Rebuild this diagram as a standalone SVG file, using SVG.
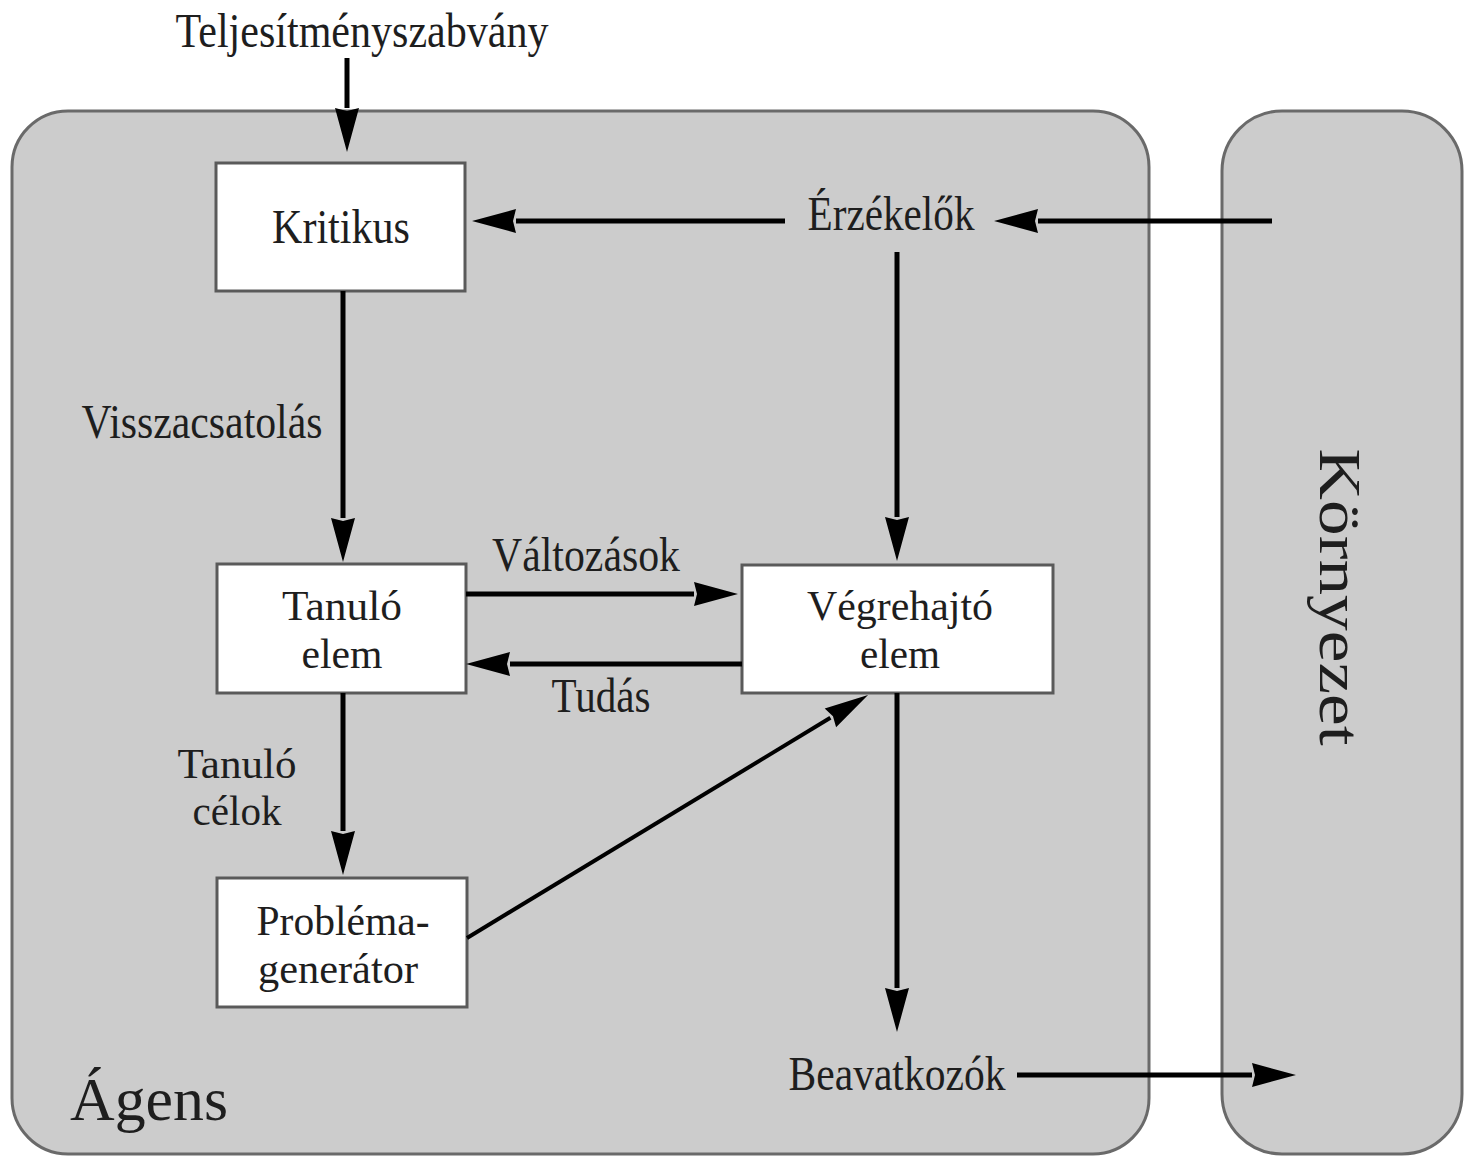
<svg xmlns="http://www.w3.org/2000/svg" width="1464" height="1156" viewBox="0 0 1464 1156">
  <style>
    .frame { fill: #cccccc; stroke: #6a6a6a; stroke-width: 3; }
    .box { fill: #ffffff; stroke: #5a5a5a; stroke-width: 3; }
    .lbl { font-family: "Liberation Serif", "Times New Roman", serif; font-size: 48px; fill: #1e1e1e; text-anchor: middle; }
    .two { font-size: 43px; }
    .big { font-size: 62px; }
    .edge { fill: none; stroke: #000000; stroke-width: 5; marker-end: url(#head); }
    .thin { stroke-width: 4; marker-end: url(#headSmall); }
  </style>
  <defs>
    <marker id="head" markerUnits="userSpaceOnUse" markerWidth="46" markerHeight="26" refX="0" refY="12" orient="auto" overflow="visible">
      <path d="M0,0 L44,12 L0,24 L3,12 z" fill="#000"/>
    </marker>
    <marker id="headSmall" markerUnits="userSpaceOnUse" markerWidth="46" markerHeight="26" refX="0" refY="11" orient="auto" overflow="visible">
      <path d="M0,0 L44,11 L0,22 L3,11 z" fill="#000"/>
    </marker>
  </defs>

  <rect width="1464" height="1156" fill="#ffffff"/>

  <!-- agent frame -->
  <g id="agens">
    <rect class="frame" x="12" y="111" width="1137" height="1043" rx="56" ry="56"/>
    <text class="lbl big" x="149" y="1120" textLength="158" lengthAdjust="spacingAndGlyphs">Ágens</text>
  </g>

  <!-- environment frame -->
  <g id="kornyezet">
    <rect class="frame" x="1222" y="111" width="240" height="1043" rx="60" ry="60"/>
    <text class="lbl" style="font-size:60px" x="1320" y="597" transform="rotate(90 1320 597)" textLength="297" lengthAdjust="spacingAndGlyphs">Környezet</text>
  </g>

  <g id="teljesitmenyszabvany">
    <text class="lbl" x="362" y="47" textLength="373" lengthAdjust="spacingAndGlyphs">Teljesítményszabvány</text>
  </g>

  <g id="kritikus">
    <rect class="box" x="216" y="163" width="249" height="128"/>
    <text class="lbl" x="341" y="243" textLength="138" lengthAdjust="spacingAndGlyphs">Kritikus</text>
  </g>

  <g id="erzekelok">
    <text class="lbl" x="891" y="230" textLength="167" lengthAdjust="spacingAndGlyphs">Érzékelők</text>
  </g>

  <g id="tanulo-elem">
    <rect class="box" x="217" y="564" width="249" height="129"/>
    <text class="lbl two" x="342" y="620" textLength="120" lengthAdjust="spacingAndGlyphs">Tanuló</text>
    <text class="lbl two" x="342" y="668" textLength="81" lengthAdjust="spacingAndGlyphs">elem</text>
  </g>

  <g id="vegrehajto-elem">
    <rect class="box" x="742" y="565" width="311" height="128"/>
    <text class="lbl two" x="900" y="620" textLength="186" lengthAdjust="spacingAndGlyphs">Végrehajtó</text>
    <text class="lbl two" x="900" y="668" textLength="80" lengthAdjust="spacingAndGlyphs">elem</text>
  </g>

  <g id="problemagenerator">
    <rect class="box" x="217" y="878" width="250" height="129"/>
    <text class="lbl two" x="343" y="935" textLength="173" lengthAdjust="spacingAndGlyphs">Probléma-</text>
    <text class="lbl two" x="338" y="983" textLength="160" lengthAdjust="spacingAndGlyphs">generátor</text>
  </g>

  <g id="beavatkozok">
    <text class="lbl" x="897" y="1090" textLength="217" lengthAdjust="spacingAndGlyphs">Beavatkozók</text>
  </g>

  <!-- connectors: each path stops where its arrowhead begins -->
  <g id="connectors">
    <path class="edge" d="M347,58 V108"/>
    <path class="edge" d="M785,221 H516"/>
    <path class="edge" d="M1272,221 H1038"/>
    <path class="edge" d="M897,252 V517"/>
    <path class="edge" d="M343,291 V518"/>
    <path class="edge" d="M466,594 H694"/>
    <path class="edge" d="M742,664 H510"/>
    <path class="edge" d="M343,693 V831"/>
    <path class="edge thin" d="M467,938 L830.4,717.8"/>
    <path class="edge" d="M897,693 V988"/>
    <path class="edge" d="M1017,1075 H1252"/>
  </g>

  <!-- edge labels -->
  <g id="edge-labels">
    <text class="lbl" x="202" y="438" textLength="241" lengthAdjust="spacingAndGlyphs">Visszacsatolás</text>
    <text class="lbl" x="586" y="571" textLength="188" lengthAdjust="spacingAndGlyphs">Változások</text>
    <text class="lbl" x="601" y="712" textLength="99" lengthAdjust="spacingAndGlyphs">Tudás</text>
    <text class="lbl two" x="237" y="778" textLength="119" lengthAdjust="spacingAndGlyphs">Tanuló</text>
    <text class="lbl two" x="237" y="825" textLength="89" lengthAdjust="spacingAndGlyphs">célok</text>
  </g>
</svg>
